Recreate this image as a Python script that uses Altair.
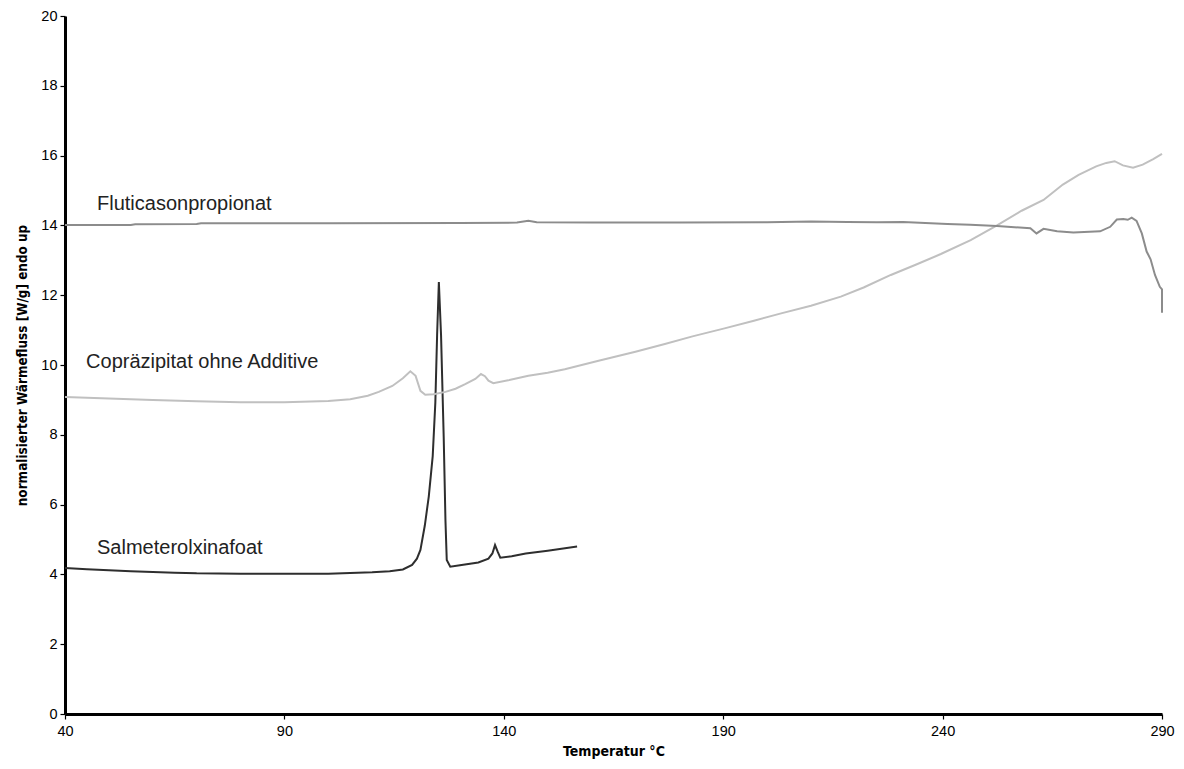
import altair as alt
import pandas as pd

# Salmeterolxinafoat
salm_t = [40, 45, 50, 55, 60, 65, 70, 80, 90, 100, 105, 110, 114, 117, 119.1, 120.2, 121, 122, 122.9,
          123.8, 124.4, 124.8, 125.2, 125.7, 126.3, 126.7, 127.0, 127.8, 130, 134.2, 136.5, 137.4, 138.0,
          138.6, 139.2, 141.8, 145, 150, 156.7]
salm_v = [4.18, 4.15, 4.12, 4.09, 4.07, 4.05, 4.03, 4.02, 4.02, 4.02, 4.04, 4.06, 4.09, 4.14, 4.27, 4.45,
          4.7, 5.4, 6.23, 7.39, 8.93, 10.85, 12.38, 10.85, 7.96, 5.56, 4.41, 4.22, 4.26, 4.34, 4.45, 4.6,
          4.84, 4.65, 4.48, 4.52, 4.6, 4.68, 4.8]

# Copräzipitat ohne Additive
copr_t = [40, 50, 60, 70, 80, 90, 100, 105, 109, 111.5, 114.6, 117, 118.7, 119.9, 121.0, 122.1, 124,
          126.7, 129, 131.2, 133.5, 134.8, 135.7, 136.5, 137.6, 141, 145.6, 150, 153.9, 161.6, 170, 176.7,
          183, 190.3, 197, 203.2, 210, 216.8, 222, 228.2, 234, 239.6, 246.4, 252.4, 258, 263, 267.4, 271,
          275, 277.3, 279.2, 281.1, 283.4, 285.6, 288, 290]
copr_v = [9.08, 9.04, 9.0, 8.96, 8.93, 8.93, 8.97, 9.02, 9.12, 9.23, 9.4, 9.62, 9.82, 9.69, 9.26, 9.15,
          9.16, 9.23, 9.32, 9.45, 9.6, 9.74, 9.68, 9.55, 9.48, 9.56, 9.69, 9.78, 9.88, 10.12, 10.38, 10.6,
          10.82, 11.05, 11.27, 11.48, 11.7, 11.96, 12.22, 12.58, 12.88, 13.18, 13.58, 14.0, 14.42, 14.73,
          15.17, 15.45, 15.69, 15.79, 15.84, 15.72, 15.65, 15.74, 15.9, 16.05]

# Fluticasonpropionat
flut_t = [40, 55, 56, 70, 71, 100, 130, 143, 145.6, 147.5, 160, 180, 200, 210, 218.3, 225, 231, 241.1,
          246.3, 252.4, 260, 261.4, 263, 266.1, 269.8, 275.9, 278.2, 279.7, 281.2, 282.2, 283.1, 284.2,
          285.4, 286.5, 287.4, 288.4, 289.5, 290, 290]
flut_v = [14.01, 14.01, 14.03, 14.04, 14.06, 14.06, 14.07, 14.08, 14.13, 14.09, 14.08, 14.08, 14.09, 14.11,
          14.1, 14.09, 14.1, 14.04, 14.02, 13.98, 13.92, 13.77, 13.9, 13.83, 13.8, 13.83, 13.96, 14.17,
          14.18, 14.16, 14.22, 14.13, 13.77, 13.25, 13.03, 12.58, 12.24, 12.17, 11.5]

series_names = ["Salmeterolxinafoat", "Copräzipitat ohne Additive", "Fluticasonpropionat"]
series_colors = ["#2e2e2e", "#c0c0c0", "#8c8c8c"]

label_text = ["Fluticasonpropionat", "Copräzipitat ohne Additive", "Salmeterolxinafoat"]
label_x = [47.3, 44.8, 47.3]
label_y = [14.6, 10.08, 4.76]

x_ticks = [40, 90, 140, 190, 240, 290]
y_ticks = [0, 2, 4, 6, 8, 10, 12, 14, 16, 18, 20]

rows = []
for name, ts, vs in zip(series_names, [salm_t, copr_t, flut_t], [salm_v, copr_v, flut_v]):
    for i, (t, v) in enumerate(zip(ts, vs)):
        rows.append({"series": name, "t": t, "v": v, "i": i})
df = pd.DataFrame(rows)
lab = pd.DataFrame({"text": label_text, "t": label_x, "v": label_y})

xscale = alt.Scale(domain=[40, 290], nice=False, zero=False)
yscale = alt.Scale(domain=[0, 20], nice=False)

axis_common = dict(domainColor="black", domainWidth=3, tickColor="black", tickSize=5, tickWidth=1.2,
                   labelFont="Liberation Sans", labelFontSize=14.5, labelColor="black",
                   labelFlush=False, grid=False,
                   titleFont="Liberation Sans Narrow, Arial Narrow, DejaVu Sans Condensed, Liberation Sans",
                   titleFontWeight="bold", titleColor="black")

lines = alt.Chart(df).mark_line(strokeWidth=2, clip=False).encode(
    x=alt.X("t:Q", scale=xscale,
            axis=alt.Axis(values=x_ticks, title="Temperatur °C", format="d", titleFontSize=14,
                          labelPadding=5, titlePadding=7, **axis_common)),
    y=alt.Y("v:Q", scale=yscale,
            axis=alt.Axis(values=y_ticks, title="normalisierter Wärmefluss [W/g] endo up", format="d",
                          titleFontSize=13.4, labelPadding=3, titlePadding=11, **axis_common)),
    color=alt.Color("series:N", scale=alt.Scale(domain=series_names, range=series_colors), legend=None),
    detail="series:N",
    order="i:Q",
)

texts = alt.Chart(lab).mark_text(align="left", baseline="middle", font="Liberation Sans",
                                 fontSize=20, color="#222222").encode(
    x=alt.X("t:Q", scale=xscale),
    y=alt.Y("v:Q", scale=yscale),
    text="text:N",
)

chart = alt.layer(lines, texts).properties(
    width=1097, height=698,
    autosize=alt.AutoSizeParams(type="none"),
    padding={"left": 57, "top": 8, "right": 13, "bottom": 55},
).configure_view(stroke=None)

chart.save("out.html", embed_options={"renderer": "svg", "actions": False})
